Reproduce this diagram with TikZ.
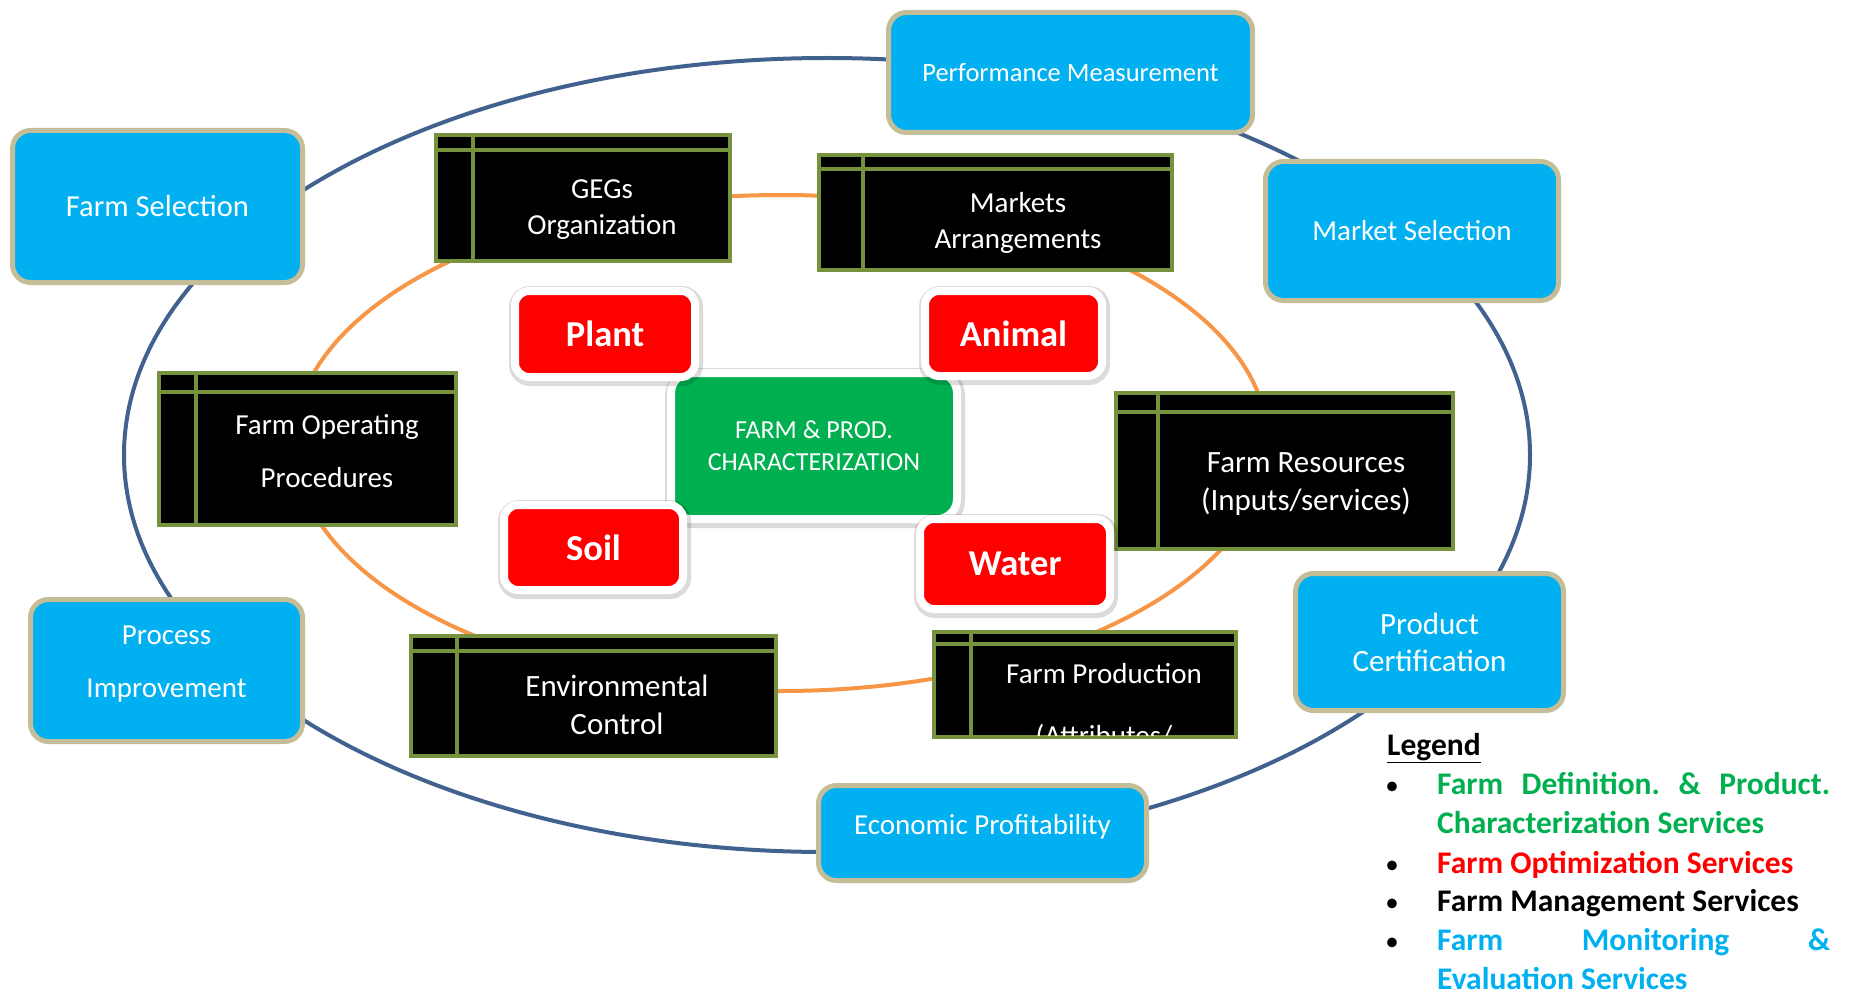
\documentclass[tikz,border=0pt]{standalone}
\usepackage{fontspec}
\setmainfont{Carlito}
\frenchspacing
\definecolor{ringblue}{HTML}{41618F}
\definecolor{ringorange}{HTML}{F79646}
\definecolor{boxblue}{HTML}{00B0F0}
\definecolor{boxtan}{HTML}{C4BD97}
\definecolor{boxolive}{HTML}{76923C}
\definecolor{boxgreen}{HTML}{00B050}
\definecolor{boxred}{HTML}{FF0000}
\tikzset{
    monitor/.style={draw=boxtan,line width=5pt,fill=boxblue,rounded corners=18pt,
        text=white,align=center,inner sep=0pt,font=\fontsize{29}{37}\selectfont},
    monitor text/.style={text=white,align=center,inner sep=0pt,font=\fontsize{29}{37}\selectfont},
    mgmt/.style 2 args={draw=boxolive,line width=4pt,fill=black,inner sep=0pt,
        path picture={\draw[boxolive,line width=4pt]
            ([xshift=#1]path picture bounding box.north west) --
            ([xshift=#1]path picture bounding box.south west)
            ([yshift=-#2]path picture bounding box.north west) --
            ([yshift=-#2]path picture bounding box.north east);}},
    mgmt text/.style={text=white,align=center,inner sep=0pt,font=\fontsize{29}{36}\selectfont},
    halo/.style={preaction={draw=black,draw opacity=.14,fill=none,line width=14pt,
        transform canvas={xshift=1pt,yshift=-2pt}}},
    optim/.style={halo,fill=boxred,draw=white,line width=8pt,rounded corners=14pt,
        text=white,inner sep=0pt,font=\bfseries\fontsize{36.5}{40}\selectfont},
    charact/.style={halo,fill=boxgreen,draw=white,line width=8pt,rounded corners=20pt,
        text=white,align=center,inner sep=0pt,font=\fontsize{26}{32}\selectfont},
    legend text/.style={anchor=base west,inner sep=0pt,font=\bfseries\fontsize{31.5}{39}\selectfont},
    legend dot/.style={anchor=base,inner sep=0pt,font=\fontsize{27}{39}\selectfont}
}

\begin{document}
\begin{tikzpicture}[x=1pt,y=1pt]
    \useasboundingbox (0,0) rectangle (1851,-995);

    \coordinate (outer ring) at (827,-455);
    \coordinate (inner ring) at (781,-443);
    \draw[ringblue,line width=4pt] (outer ring) ellipse [x radius=703pt,y radius=397pt];
    \draw[ringorange,line width=4pt] (inner ring) ellipse [x radius=487pt,y radius=248pt];

    \node[monitor,minimum width=364pt,minimum height=120pt,font=\fontsize{26.5}{32}\selectfont]
        (perf) at (1070.5,-72.5) {Performance Measurement};
    \node[monitor,minimum width=290pt,minimum height=152pt,font=\fontsize{30.5}{37}\selectfont]
        (fsel) at (157.5,-206.5) {Farm Selection};
    \node[monitor,minimum width=293pt,minimum height=139pt] (msel) at (1412,-231) {Market Selection};
    \node[monitor,minimum width=272pt,minimum height=142pt] (proc) at (166.5,-670.5) {};
    \node[monitor text,font=\fontsize{29}{53}\selectfont] (proc-t) at (166.5,-664) {Process\\Improvement};
    \node[monitor,minimum width=268pt,minimum height=137pt,font=\fontsize{31}{37}\selectfont]
        (cert) at (1429.5,-642) {Product\\Certification};
    \node[monitor,minimum width=328pt,minimum height=95pt] (econ) at (982.5,-833) {};
    \node[monitor text] (econ-t) at (982.5,-827) {Economic Profitability};

    \node[mgmt={37pt}{15pt},minimum width=294pt,minimum height=126pt] (geg) at (583,-198) {};
    \node[mgmt text] (geg-t) at (602,-209.5) {GEGs\\Organization};
    \node[mgmt={44pt}{14pt},minimum width=353pt,minimum height=115pt] (mkt) at (995.5,-212.5) {};
    \node[mgmt text] (mkt-t) at (1018,-223) {Markets\\Arrangements};
    \node[mgmt={37pt}{19pt},minimum width=297pt,minimum height=152pt] (fop) at (307.5,-449) {};
    \node[mgmt text,font=\fontsize{29}{53}\selectfont] (fop-t) at (327,-451) {Farm Operating\\Procedures};
    \node[mgmt={42pt}{19pt},minimum width=337pt,minimum height=156pt] (res) at (1284.5,-471) {};
    \node[mgmt text,font=\fontsize{31}{38}\selectfont] (res-t) at (1306,-484) {Farm Resources\\(Inputs/services)};
    \node[mgmt={46pt}{15pt},minimum width=365pt,minimum height=120pt] (env) at (593.5,-696) {};
    \node[mgmt text,font=\fontsize{31}{38}\selectfont] (env-t) at (617,-705) {Environmental\\Control};
    \node[mgmt={37pt}{12pt},minimum width=302pt,minimum height=105pt] (prod) at (1085,-684.5) {};
    \begin{scope}
        \clip ([shift={(4pt,-4pt)}]prod.north west) rectangle ([shift={(-4pt,4pt)}]prod.south east);
        \node[mgmt text,font=\fontsize{29}{62}\selectfont] (prod-t) at (1104,-706.5) {Farm Production\\(Attributes/};
    \end{scope}

    \node[charact,minimum width=286pt,minimum height=146pt] (fpc) at (814,-446)
        {FARM \& PROD.\\CHARACTERIZATION};
    \node[optim,minimum width=180pt,minimum height=86pt] (plant) at (605,-334) {Plant};
    \node[optim,minimum width=177pt,minimum height=85pt] (animal) at (1013.5,-333.5) {Animal};
    \node[optim,minimum width=179pt,minimum height=85pt] (soil) at (593.5,-547.5) {Soil};
    \node[optim,minimum width=190pt,minimum height=90pt] (water) at (1015,-564) {Water};

    \node[legend text] (leg) at (1387,-755) {\underline{Legend}};
    \foreach \y [count=\i] in {794,873,911,950}
        \node[legend dot] (dot\i) at (1392,-\y) {•};
    \node[legend text,text=boxgreen] (leg1a) at (1437,-794) {\makebox[393pt][s]{Farm Definition. \& Product.}};
    \node[legend text,text=boxgreen] (leg1b) at (1437,-833) {Characterization Services};
    \node[legend text,text=boxred] (leg2) at (1437,-873) {Farm Optimization Services};
    \node[legend text] (leg3) at (1437,-911) {Farm Management Services};
    \node[legend text,text=boxblue] (leg4a) at (1437,-950) {\makebox[393pt][s]{Farm Monitoring \&}};
    \node[legend text,text=boxblue] (leg4b) at (1437,-989) {Evaluation Services};
\end{tikzpicture}
\end{document}
